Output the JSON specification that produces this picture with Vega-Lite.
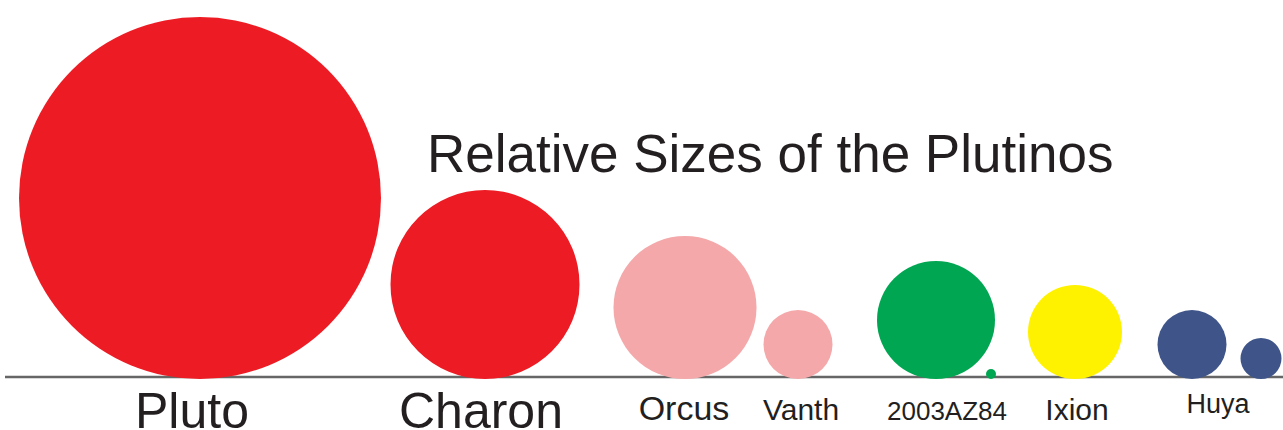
{
  "$schema": "https://vega.github.io/schema/vega-lite/v6.json",
  "width": 1283,
  "height": 430,
  "autosize": {"type": "none"},
  "padding": 0,
  "background": "white",
  "config": {"view": {"stroke": null}, "font": "Liberation Sans"},
  "datasets": {
    "bodies": [
      {"name": "Pluto", "system": "Pluto", "pos": 200, "diameter": 362},
      {"name": "Charon", "system": "Pluto", "pos": 485, "diameter": 189},
      {"name": "Orcus", "system": "Orcus", "pos": 685, "diameter": 143},
      {"name": "Vanth", "system": "Orcus", "pos": 798, "diameter": 69},
      {"name": "2003AZ84", "system": "2003AZ84", "pos": 936, "diameter": 118},
      {"name": "2003AZ84 moon", "system": "2003AZ84", "pos": 991, "diameter": 10},
      {"name": "Ixion", "system": "Ixion", "pos": 1075, "diameter": 94},
      {"name": "Huya", "system": "Huya", "pos": 1192, "diameter": 69},
      {"name": "Huya moon", "system": "Huya", "pos": 1261, "diameter": 41}
    ],
    "labels": [
      {"name": "Pluto", "pos": 192},
      {"name": "Charon", "pos": 481},
      {"name": "Orcus", "pos": 684},
      {"name": "Vanth", "pos": 801},
      {"name": "2003AZ84", "pos": 947},
      {"name": "Ixion", "pos": 1077},
      {"name": "Huya", "pos": 1218}
    ]
  },
  "layer": [
    {
      "data": {"values": [{}]},
      "mark": {"type": "rule", "color": "#666666", "strokeWidth": 2.5},
      "encoding": {
        "x": {"datum": 5, "type": "quantitative", "scale": {"domain": [0, 1283], "nice": false, "zero": false}, "axis": null},
        "x2": {"datum": 1283},
        "y": {"datum": 0, "type": "quantitative", "scale": {"domain": [-53, 377], "nice": false, "zero": false}, "axis": null}
      }
    },
    {
      "data": {"name": "bodies"},
      "mark": {"type": "circle", "opacity": 1, "strokeWidth": 0},
      "encoding": {
        "x": {"field": "pos", "type": "quantitative", "scale": {"domain": [0, 1283], "nice": false, "zero": false}, "axis": null},
        "y": {"field": "diameter", "type": "quantitative", "scale": {"domain": [-102, 758], "nice": false, "zero": false}, "axis": null},
        "size": {"field": "diameter", "type": "quantitative", "scale": {"type": "pow", "exponent": 2, "domain": [0, 400], "range": [0, 160000], "nice": false}, "legend": null},
        "color": {"field": "system", "type": "nominal", "scale": {"domain": ["Pluto", "Orcus", "2003AZ84", "Ixion", "Huya"], "range": ["#ED1C24", "#F4A8AA", "#00A651", "#FFF200", "#3F5589"]}, "legend": null}
      }
    },
    {
      "data": {"name": "labels"},
      "transform": [{"filter": "datum.name === 'Pluto' || datum.name === 'Charon'"}],
      "mark": {"type": "text", "fontSize": 50, "align": "center", "baseline": "alphabetic", "color": "#231F20"},
      "encoding": {
        "x": {"field": "pos", "type": "quantitative", "scale": {"domain": [0, 1283], "nice": false, "zero": false}, "axis": null},
        "y": {"datum": -51, "type": "quantitative", "scale": {"domain": [-53, 377], "nice": false, "zero": false}, "axis": null},
        "text": {"field": "name"}
      }
    },
    {
      "data": {"name": "labels"},
      "transform": [{"filter": "datum.name === 'Orcus'"}],
      "mark": {"type": "text", "fontSize": 34, "align": "center", "baseline": "alphabetic", "color": "#231F20"},
      "encoding": {
        "x": {"field": "pos", "type": "quantitative", "scale": {"domain": [0, 1283], "nice": false, "zero": false}, "axis": null},
        "y": {"datum": -43, "type": "quantitative", "scale": {"domain": [-53, 377], "nice": false, "zero": false}, "axis": null},
        "text": {"field": "name"}
      }
    },
    {
      "data": {"name": "labels"},
      "transform": [{"filter": "datum.name === 'Vanth' || datum.name === 'Ixion'"}],
      "mark": {"type": "text", "fontSize": 30, "align": "center", "baseline": "alphabetic", "color": "#231F20"},
      "encoding": {
        "x": {"field": "pos", "type": "quantitative", "scale": {"domain": [0, 1283], "nice": false, "zero": false}, "axis": null},
        "y": {"datum": -43, "type": "quantitative", "scale": {"domain": [-53, 377], "nice": false, "zero": false}, "axis": null},
        "text": {"field": "name"}
      }
    },
    {
      "data": {"name": "labels"},
      "transform": [{"filter": "datum.name === '2003AZ84'"}],
      "mark": {"type": "text", "fontSize": 26, "align": "center", "baseline": "alphabetic", "color": "#231F20"},
      "encoding": {
        "x": {"field": "pos", "type": "quantitative", "scale": {"domain": [0, 1283], "nice": false, "zero": false}, "axis": null},
        "y": {"datum": -43, "type": "quantitative", "scale": {"domain": [-53, 377], "nice": false, "zero": false}, "axis": null},
        "text": {"field": "name"}
      }
    },
    {
      "data": {"name": "labels"},
      "transform": [{"filter": "datum.name === 'Huya'"}],
      "mark": {"type": "text", "fontSize": 27, "align": "center", "baseline": "alphabetic", "color": "#231F20"},
      "encoding": {
        "x": {"field": "pos", "type": "quantitative", "scale": {"domain": [0, 1283], "nice": false, "zero": false}, "axis": null},
        "y": {"datum": -36, "type": "quantitative", "scale": {"domain": [-53, 377], "nice": false, "zero": false}, "axis": null},
        "text": {"field": "name"}
      }
    },
    {
      "data": {"values": [{"title": "Relative Sizes of the Plutinos"}]},
      "mark": {"type": "text", "fontSize": 53, "align": "left", "baseline": "alphabetic", "color": "#231F20"},
      "encoding": {
        "x": {"datum": 427, "type": "quantitative", "scale": {"domain": [0, 1283], "nice": false, "zero": false}, "axis": null},
        "y": {"datum": 205, "type": "quantitative", "scale": {"domain": [-53, 377], "nice": false, "zero": false}, "axis": null},
        "text": {"field": "title"}
      }
    }
  ],
  "resolve": {"scale": {"y": "independent"}}
}
